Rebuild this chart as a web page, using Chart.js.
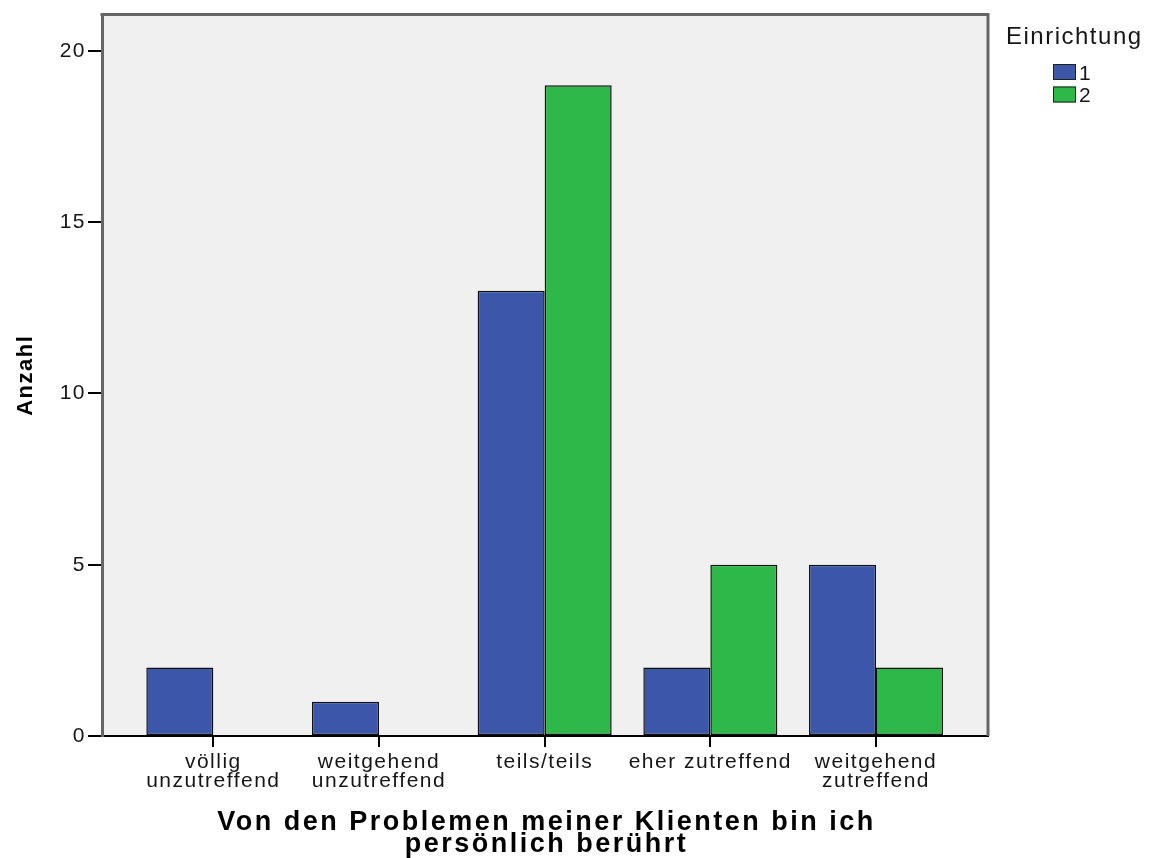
<!DOCTYPE html>
<html lang="de">
<head>
<meta charset="utf-8">
<title>Anzahl nach Einrichtung</title>
<script src="https://cdn.jsdelivr.net/npm/chart.js@4"></script>
<style>
  html, body { margin: 0; padding: 0; background: #fff; }
  canvas { display: block; }
</style>
</head>
<body>
<canvas id="chart" width="1154" height="858"></canvas>
<script>
// Daten
const categories = [
  ["völlig", "unzutreffend"],
  ["weitgehend", "unzutreffend"],
  "teils/teils",
  "eher zutreffend",
  ["weitgehend", "zutreffend"]
];
const seriesNames = ["1", "2"];
const einrichtung1 = [2, 1, 13, 2, 5];
const einrichtung2 = [0, 0, 19, 5, 2];
const yTicks = [0, 5, 10, 15, 20];
const legendTitle = "Einrichtung";
const xTitle = ["Von den Problemen meiner Klienten bin ich", "persönlich berührt"];
const yTitle = "Anzahl";

const FONT = "'Liberation Sans', Arial, sans-serif";
const TEXT = "#161616";
const BLUE = "#3c57a9";
const GREEN = "#2fb84a";
const LS = "1.5px";

const toPoints = (vals) => vals.map((v, i) => ({ x: i, y: v }));

// SPSS-Schrift wirkt breiter gesetzt -> etwas Zeichenabstand
const spacing = {
  id: "spacing",
  beforeUpdate(chart) { chart.ctx.letterSpacing = LS; },
  beforeDraw(chart) {
    const { ctx, chartArea: a } = chart;
    ctx.letterSpacing = LS;
    ctx.save();
    ctx.fillStyle = "#f0f0f0";
    ctx.fillRect(a.left, a.top, a.right - a.left, a.bottom - a.top);
    ctx.restore();
  },
  afterDraw(chart) {
    const { ctx, chartArea: a } = chart;
    // Rahmen oben und rechts
    ctx.save();
    ctx.strokeStyle = "#666";
    ctx.lineWidth = 3;
    ctx.beginPath();
    ctx.moveTo(a.left - 1.5, a.top);
    ctx.lineTo(a.right, a.top);
    ctx.lineTo(a.right, a.bottom);
    ctx.stroke();

    // x-Achsentitel, breit gesperrt wie im Original
    ctx.letterSpacing = "2.5px";
    ctx.textAlign = "center";
    ctx.textBaseline = "alphabetic";
    ctx.fillStyle = "#000";
    ctx.font = "bold 27px " + FONT;
    const cx = (a.left + a.right) / 2 + 1.5;
    xTitle.forEach((line, i) => ctx.fillText(line, cx, 830 + i * 22));

    // Legende
    ctx.letterSpacing = LS;
    ctx.textAlign = "left";
    ctx.fillStyle = TEXT;
    ctx.font = "24px " + FONT;
    ctx.fillText(legendTitle, 1006, 44);
    chart.data.datasets.forEach((ds, i) => {
      const y = 64 + i * 22.5;
      ctx.fillStyle = ds.backgroundColor;
      ctx.fillRect(1053, y, 23, 16);
      ctx.strokeStyle = "#222";
      ctx.lineWidth = 1;
      ctx.strokeRect(1053.5, y + 0.5, 22, 15);
      ctx.fillStyle = TEXT;
      ctx.font = "21px " + FONT;
      ctx.fillText(ds.label, 1079, y + 15.5);
    });
    ctx.restore();
  }
};

new Chart(document.getElementById("chart"), {
  type: "bar",
  data: {
    datasets: [
      { label: seriesNames[0], data: toPoints(einrichtung1), backgroundColor: BLUE },
      { label: seriesNames[1], data: toPoints(einrichtung2), backgroundColor: GREEN }
    ]
  },
  options: {
    responsive: false,
    animation: false,
    categoryPercentage: 0.809,
    barPercentage: 1,
    borderColor: "#111",
    borderWidth: 1.5,
    borderSkipped: false,
    layout: { padding: { left: 0, top: 12, right: 166, bottom: 0 } },
    plugins: { legend: { display: false }, tooltip: { enabled: false } },
    scales: {
      x: {
        type: "linear",
        offset: false,
        min: -0.672,
        max: 4.676,
        afterBuildTicks(scale) { scale.ticks = categories.map((c, i) => ({ value: i })); },
        afterFit(scale) { scale.height = 122; },
        grid: { display: true, offset: false, drawOnChartArea: false, drawTicks: true, tickLength: 11, color: "#000", lineWidth: 2 },
        border: { display: true, color: "#000", width: 2 },
        ticks: {
          padding: 6,
          maxRotation: 0,
          autoSkip: false,
          color: TEXT,
          font: { family: FONT, size: 21, lineHeight: "19px" },
          callback: (v) => categories[v]
        },
        title: { display: false }
      },
      y: {
        min: 0,
        max: 21.06,
        afterBuildTicks(scale) { scale.ticks = yTicks.map((v) => ({ value: v })); },
        afterFit(scale) { scale.width = 102; },
        grid: { display: true, drawOnChartArea: false, drawTicks: true, tickLength: 14, color: "#000", lineWidth: 2 },
        border: { display: true, color: "#666", width: 3 },
        ticks: { padding: 2, color: TEXT, font: { family: FONT, size: 21 } },
        title: {
          display: true,
          text: yTitle,
          color: "#000",
          padding: { top: 13, bottom: 0 },
          font: { family: FONT, size: 22, weight: "bold" }
        }
      }
    }
  },
  plugins: [spacing]
});
</script>
</body>
</html>
